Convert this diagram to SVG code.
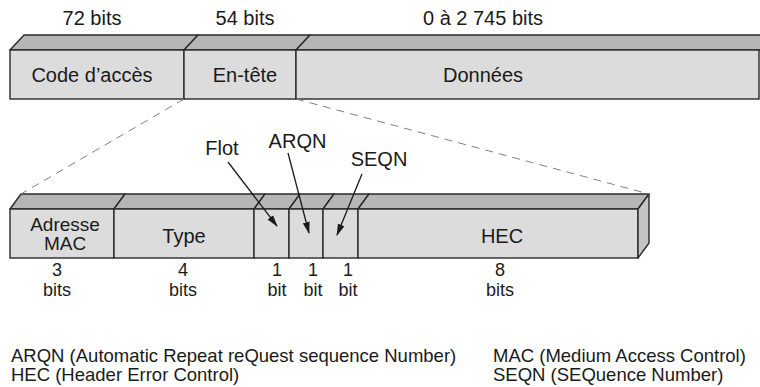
<svg xmlns="http://www.w3.org/2000/svg" width="760" height="387" viewBox="0 0 760 387">
<defs>
<style>
text{font-family:"Liberation Sans",Arial,Helvetica,sans-serif;fill:#1a1a1a}
.lbl{font-size:20px;text-anchor:middle}
.fld{font-size:19px;text-anchor:middle}
.bit{font-size:18px;text-anchor:middle}
.leg{font-size:18.5px}
.front{fill:#dcdcdc;stroke:#2a2a2a;stroke-width:1.4}
.top{fill:#b6b6b6;stroke:#2a2a2a;stroke-width:1.4;stroke-linejoin:round}
.side{fill:#c4c4c4;stroke:#2a2a2a;stroke-width:1.4;stroke-linejoin:round}
.dash{fill:none;stroke:#808080;stroke-width:1;stroke-dasharray:8,6}
.arr{fill:none;stroke:#1a1a1a;stroke-width:1.3;marker-end:url(#ah)}
</style>
<marker id="ah" markerWidth="12" markerHeight="8" refX="11" refY="4" orient="auto" markerUnits="userSpaceOnUse">
<path d="M0,0.5 L12,4 L0,7.5 Z" fill="#1a1a1a"/>
</marker>
</defs>

<text class="lbl" x="92" y="25">72 bits</text>
<text class="lbl" x="245" y="25">54 bits</text>
<text class="lbl" x="483" y="25">0 à 2 745 bits</text>

<g id="code-acces">
<polygon class="top" points="10,50 24,35 198,35 184,50"/>
<rect class="front" x="10" y="50" width="174" height="49"/>
<text class="lbl" x="92" y="82">Code d’accès</text>
</g>
<g id="en-tete">
<polygon class="top" points="184,50 198,35 310,35 296,50"/>
<rect class="front" x="184" y="50" width="112" height="49"/>
<text class="lbl" x="245" y="82">En-tête</text>
</g>
<g id="donnees">
<polygon class="top" points="296,50 310,35 780,35 766,50"/>
<rect class="front" x="296" y="50" width="463" height="49"/>
<text class="lbl" x="483" y="82">Données</text>
</g>

<g id="adresse-mac">
<polygon class="top" points="10,209 21,194 125,194 114,209"/>
<rect class="front" x="10" y="209" width="104" height="49"/>
<text class="fld" x="65" y="231">Adresse</text>
<text class="fld" x="65" y="250">MAC</text>
<text class="bit" x="57" y="276">3</text>
<text class="bit" x="57" y="296">bits</text>
</g>
<g id="type">
<polygon class="top" points="114,209 125,194 265,194 254,209"/>
<rect class="front" x="114" y="209" width="140" height="49"/>
<text class="lbl" x="184" y="243">Type</text>
<text class="bit" x="183" y="276">4</text>
<text class="bit" x="183" y="296">bits</text>
</g>
<g id="flot">
<polygon class="top" points="254,209 265,194 300,194 289,209"/>
<rect class="front" x="254" y="209" width="35" height="49"/>
<text class="bit" x="277" y="276">1</text>
<text class="bit" x="277" y="296">bit</text>
</g>
<g id="arqn">
<polygon class="top" points="289,209 300,194 334,194 323,209"/>
<rect class="front" x="289" y="209" width="34" height="49"/>
<text class="bit" x="313" y="276">1</text>
<text class="bit" x="313" y="296">bit</text>
</g>
<g id="seqn">
<polygon class="top" points="323,209 334,194 369,194 358,209"/>
<rect class="front" x="323" y="209" width="35" height="49"/>
<text class="bit" x="348" y="276">1</text>
<text class="bit" x="348" y="296">bit</text>
</g>
<g id="hec">
<polygon class="top" points="358,209 369,194 649,194 638,209"/>
<rect class="front" x="358" y="209" width="280" height="49"/>
<polygon class="side" points="638,209 649,194 649,243 638,258"/>
<text class="lbl" x="502" y="243">HEC</text>
<text class="bit" x="500" y="276">8</text>
<text class="bit" x="500" y="296">bits</text>
</g>

<g id="connectors">
<line class="dash" x1="184" y1="99" x2="21" y2="194"/>
<line class="dash" x1="296" y1="99" x2="649" y2="194"/>
<line class="arr" x1="228" y1="162" x2="277" y2="226"/>
<line class="arr" x1="288" y1="153" x2="309" y2="233"/>
<line class="arr" x1="362" y1="174" x2="337" y2="235"/>
</g>

<text class="lbl" x="222" y="155">Flot</text>
<text class="lbl" x="297.5" y="148">ARQN</text>
<text class="lbl" x="379" y="166">SEQN</text>

<g id="legend">
<text class="leg" x="11" y="362">ARQN (Automatic Repeat reQuest sequence Number)</text>
<text class="leg" x="11" y="381">HEC (Header Error Control)</text>
<text class="leg" x="493" y="362">MAC (Medium Access Control)</text>
<text class="leg" x="493" y="381">SEQN (SEQuence Number)</text>
</g>
</svg>
